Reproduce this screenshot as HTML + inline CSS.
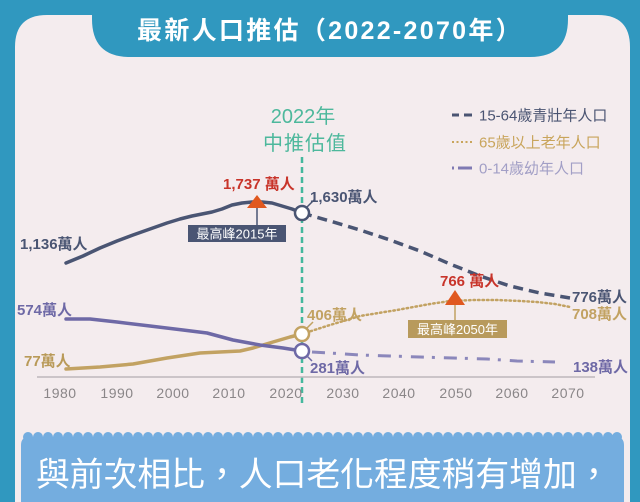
<!DOCTYPE html>
<html><head><meta charset="utf-8"><style>
html,body{margin:0;padding:0;background:#3098bf;width:640px;height:502px;overflow:hidden;}
svg{display:block;}
text{font-family:"Liberation Sans","Noto Sans CJK TC",sans-serif;}
</style></head><body>
<svg width="640" height="502" viewBox="0 0 640 502" xmlns="http://www.w3.org/2000/svg">
<rect x="0" y="0" width="640" height="502" fill="#3098bf"/>
<path d="M15 502 L15 47 Q15 15 47 15 L598 15 Q630 15 630 47 L630 502 Z" fill="#f4ecee"/>
<path d="M88 0 L92 0 L92 19 Q92 57 130 57 L530 57 Q568 57 568 19 L568 0 Z" fill="#3098bf"/>
<text x="330" y="39" text-anchor="middle" font-size="25" font-weight="bold" fill="#ffffff" letter-spacing="2.3">最新人口推估（2022-2070年）</text>

<!-- legend -->
<line x1="452" y1="115" x2="459" y2="115" stroke="#4a5472" stroke-width="3"/>
<line x1="464" y1="115" x2="472" y2="115" stroke="#4a5472" stroke-width="3"/>
<text x="479" y="120.5" font-size="15" fill="#4a5472">15-64歲青壯年人口</text>
<line x1="452" y1="142" x2="472" y2="142" stroke="#c9a55c" stroke-width="2" stroke-dasharray="2 2.5"/>
<text x="479" y="147.5" font-size="15" fill="#c9a55c">65歲以上老年人口</text>
<line x1="452" y1="168" x2="454" y2="168" stroke="#7f7ab3" stroke-width="3"/>
<line x1="458" y1="168" x2="472" y2="168" stroke="#7f7ab3" stroke-width="3"/>
<text x="479" y="173.5" font-size="15" fill="#a29fc6">0-14歲幼年人口</text>

<!-- 2022 marker -->
<text x="303" y="123" text-anchor="middle" font-size="20" fill="#4db89c">2022年</text>
<text x="305" y="150" text-anchor="middle" font-size="20" fill="#4db89c" letter-spacing="1">中推估值</text>
<line x1="302" y1="157" x2="302" y2="405" stroke="#45b89d" stroke-width="2.5" stroke-dasharray="6 4"/>

<!-- axis -->
<line x1="37" y1="377" x2="595" y2="377" stroke="#bdb7bb" stroke-width="1.5"/>
<g font-size="14" fill="#8a8688" text-anchor="middle" letter-spacing="0.5">
<text x="60" y="398">1980</text>
<text x="117" y="398">1990</text>
<text x="173" y="398">2000</text>
<text x="229" y="398">2010</text>
<text x="286" y="398">2020</text>
<text x="343" y="398">2030</text>
<text x="399" y="398">2040</text>
<text x="456" y="398">2050</text>
<text x="512" y="398">2060</text>
<text x="568" y="398">2070</text>
</g>

<!-- 15-64 -->
<polyline fill="none" stroke="#4a5573" stroke-width="3.5" stroke-linejoin="round" stroke-linecap="round"
 points="66,263 83,256 100,248 117,241 133,235 150,229 167,223 180,219 192,216 202,214 212,212 222,209 232,205 242,203 252,202 262,202 272,203 282,206 292,209 302,213"/>
<polyline fill="none" stroke="#4a5573" stroke-width="3.5" stroke-dasharray="10 6"
 points="302,213 330,221 360,230 390,240 420,251 450,264 480,276 510,286 540,293 570,298"/>

<!-- 65+ -->
<polyline fill="none" stroke="#c2a262" stroke-width="3.5" stroke-linejoin="round" stroke-linecap="round"
 points="66,369 100,367 133,364 167,358 200,353 220,352 240,351 253,348 273,342 290,337 302,334"/>
<polyline fill="none" stroke="#c2a262" stroke-width="2.5" stroke-dasharray="1.5 3" stroke-linecap="round"
 points="302,334 330,325 360,316 397,310 430,304 450,301 475,300 497,300 520,301 537,302 555,304 570,307"/>

<!-- 0-14 -->
<polyline fill="none" stroke="#6e69a6" stroke-width="3.5" stroke-linejoin="round" stroke-linecap="round"
 points="66,319 90,319 117,322 150,326 183,330 207,333 233,340 260,345 283,348 302,351"/>
<polyline fill="none" stroke="#8b87bb" stroke-width="3" stroke-dasharray="13 8 3 9"
 points="312,352 330,353 360,355 390,356 420,357 453,358 487,359 517,361 555,362"/>

<!-- circles and leaders -->
<line x1="306" y1="208" x2="314" y2="200" stroke="#4a5573" stroke-width="1.5"/>
<circle cx="302" cy="213" r="7" fill="#ffffff" stroke="#4a5573" stroke-width="2.5"/>
<line x1="306" y1="329" x2="313" y2="322" stroke="#c2a262" stroke-width="1.5"/>
<circle cx="302" cy="334" r="7" fill="#ffffff" stroke="#c2a262" stroke-width="2.5"/>
<line x1="307" y1="356" x2="312" y2="361" stroke="#6e69a6" stroke-width="1.5"/>
<circle cx="302" cy="351" r="7" fill="#ffffff" stroke="#6e69a6" stroke-width="2.5"/>

<!-- labels -->
<g font-size="15" font-weight="bold">
<text x="20" y="249" fill="#4a5573">1,136萬人</text>
<text x="223" y="189" fill="#c8342a">1,737 萬人</text>
<text x="310" y="202" fill="#4a5573">1,630萬人</text>
<text x="17" y="315" fill="#6e69a6">574萬人</text>
<text x="24" y="366" fill="#b99a58">77萬人</text>
<text x="307" y="320" fill="#c2a262">406萬人</text>
<text x="310" y="373" fill="#6e69a6">281萬人</text>
<text x="440" y="286" fill="#c8342a">766 萬人</text>
<text x="572" y="302" fill="#4a5573">776萬人</text>
<text x="572" y="319" fill="#c2a262">708萬人</text>
<text x="573" y="372" fill="#6e69a6">138萬人</text>
</g>

<!-- peak 2015 -->
<line x1="257" y1="206" x2="257" y2="225" stroke="#4a5573" stroke-width="1.5"/>
<polygon points="257,195 267,208 247,208" fill="#e0581f"/>
<rect x="188" y="225" width="98" height="17" fill="#4a5573"/>
<text x="237" y="238.5" text-anchor="middle" font-size="13" fill="#ffffff">最高峰2015年</text>

<!-- peak 2050 -->
<line x1="455" y1="303" x2="455" y2="320" stroke="#c2a262" stroke-width="1.5"/>
<polygon points="455,290 465,305 445,305" fill="#e0581f"/>
<rect x="408" y="320" width="99" height="18" fill="#b89a5c"/>
<text x="457.5" y="334" text-anchor="middle" font-size="13" fill="#ffffff">最高峰2050年</text>

<!-- bottom banner -->
<path d="M21 502 L21 445 Q21 437 29 437 L616 437 Q624 437 624 445 L624 502 Z" fill="#74addf"/>
<g fill="#74addf">
<circle cx="28" cy="437" r="5"/><circle cx="38" cy="437" r="5"/><circle cx="48" cy="437" r="5"/><circle cx="58" cy="437" r="5"/><circle cx="68" cy="437" r="5"/><circle cx="78" cy="437" r="5"/><circle cx="88" cy="437" r="5"/><circle cx="98" cy="437" r="5"/><circle cx="108" cy="437" r="5"/><circle cx="118" cy="437" r="5"/>
<circle cx="128" cy="437" r="5"/><circle cx="138" cy="437" r="5"/><circle cx="148" cy="437" r="5"/><circle cx="158" cy="437" r="5"/><circle cx="168" cy="437" r="5"/><circle cx="178" cy="437" r="5"/><circle cx="188" cy="437" r="5"/><circle cx="198" cy="437" r="5"/><circle cx="208" cy="437" r="5"/><circle cx="218" cy="437" r="5"/>
<circle cx="228" cy="437" r="5"/><circle cx="238" cy="437" r="5"/><circle cx="248" cy="437" r="5"/><circle cx="258" cy="437" r="5"/><circle cx="268" cy="437" r="5"/><circle cx="278" cy="437" r="5"/><circle cx="288" cy="437" r="5"/><circle cx="298" cy="437" r="5"/><circle cx="308" cy="437" r="5"/><circle cx="318" cy="437" r="5"/>
<circle cx="328" cy="437" r="5"/><circle cx="338" cy="437" r="5"/><circle cx="348" cy="437" r="5"/><circle cx="358" cy="437" r="5"/><circle cx="368" cy="437" r="5"/><circle cx="378" cy="437" r="5"/><circle cx="388" cy="437" r="5"/><circle cx="398" cy="437" r="5"/><circle cx="408" cy="437" r="5"/><circle cx="418" cy="437" r="5"/>
<circle cx="428" cy="437" r="5"/><circle cx="438" cy="437" r="5"/><circle cx="448" cy="437" r="5"/><circle cx="458" cy="437" r="5"/><circle cx="468" cy="437" r="5"/><circle cx="478" cy="437" r="5"/><circle cx="488" cy="437" r="5"/><circle cx="498" cy="437" r="5"/><circle cx="508" cy="437" r="5"/><circle cx="518" cy="437" r="5"/>
<circle cx="528" cy="437" r="5"/><circle cx="538" cy="437" r="5"/><circle cx="548" cy="437" r="5"/><circle cx="558" cy="437" r="5"/><circle cx="568" cy="437" r="5"/><circle cx="578" cy="437" r="5"/><circle cx="588" cy="437" r="5"/><circle cx="598" cy="437" r="5"/><circle cx="608" cy="437" r="5"/><circle cx="617" cy="437" r="5"/>
</g>
<text x="36" y="486" font-size="33.8" fill="#ffffff" font-family="'Noto Sans CJK TC','Liberation Sans',sans-serif">與前次相比，人口老化程度稍有增加，</text>
</svg>
</body></html>
